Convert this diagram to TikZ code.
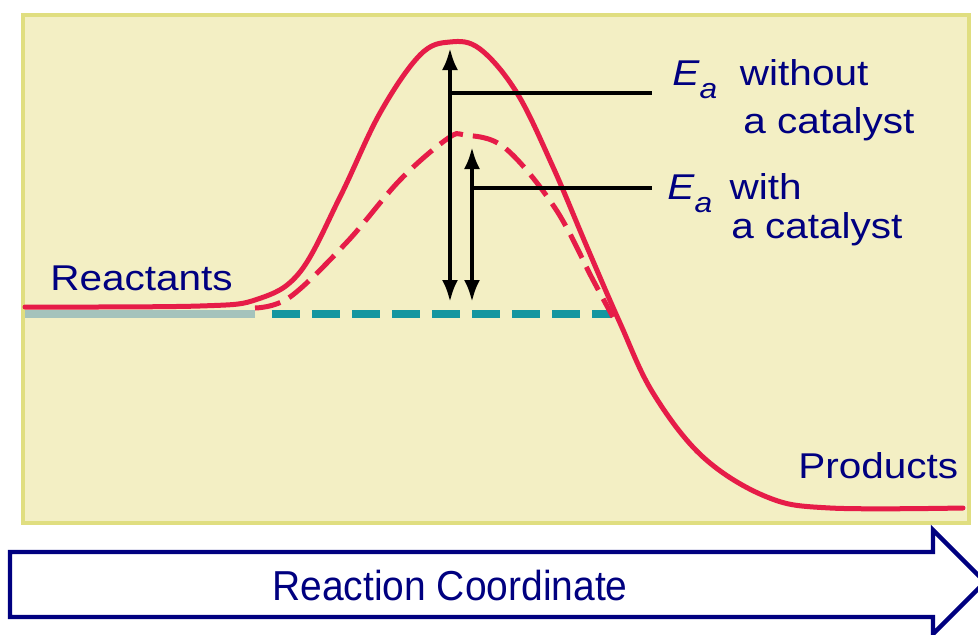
\documentclass[tikz,border=0pt]{standalone}
\usepackage{fontspec}
\setmainfont{Liberation Sans}
\usepackage{xcolor}
\usepackage{tikz}
\usetikzlibrary{arrows.meta}
\definecolor{labelblue}{RGB}{0,0,128}
\definecolor{curvered}{RGB}{230,28,72}
\definecolor{baseteal}{RGB}{20,150,160}
\definecolor{basepale}{RGB}{165,195,188}
\definecolor{paper}{RGB}{243,239,196}
\definecolor{paperedge}{RGB}{224,222,128}
\newcommand{\labelsize}{\fontsize{25.5}{30}\selectfont}
\newcommand{\Esub}{\textit{E}\raisebox{-0.39em}{\fontsize{20}{22}\selectfont\itshape a}}
\tikzset{
  energylabel/.style={
    text=labelblue, font=\labelsize, inner sep=0pt,
    anchor=base west, xscale=1.13
  },
  profile/.style={
    curvered, line width=1.25mm, line cap=round, line join=round
  },
  catprofile/.style={
    curvered, line width=1.25mm, dash pattern=on 6.5mm off 2.5mm
  },
  basedash/.style={
    baseteal, line width=2mm, dash pattern=on 7mm off 3mm
  },
  gaparrow/.style={
    {Latex[length=5.5mm,width=4mm]}-{Latex[length=5.5mm,width=4mm]},
    line width=1mm
  },
  leader/.style={line width=0.9mm},
}

\begin{document}
\begin{tikzpicture}[x=0.25mm, y=-0.25mm]
  \useasboundingbox (0,0) rectangle (978,635);

  % Plot area
  \draw[paperedge, line width=1mm, fill=paper] (23,15) rectangle (969,523);

  % Reactant energy level
  \draw[basepale, line width=2mm] (25,314) -- (255,314);
  \draw[basedash] (272,314) -- (612,314);

  % Uncatalysed path
  \draw[profile] plot[smooth, tension=0.6] coordinates {
    (25,307) (200,306) (258,299) (300,272) (340,197) (380,113)
    (420,55) (450,42) (480,49) (517,93) (553,167) (587,247)
    (620,323) (653,393) (703,457) (767,497) (830,508) (963,508)};

  % Catalysed path
  \draw[catprofile] plot[smooth, tension=0.6] coordinates {
    (255,308) (290,297) (347,242) (400,180) (447,139) (465,135)
    (505,148) (555,208) (593,280) (613,317)};

  % Activation energies
  \coordinate (peakA) at (450,48);
  \coordinate (flatA) at (450,302);
  \coordinate (peakB) at (472,147);
  \coordinate (flatB) at (472,302);
  \coordinate (leadA) at (450,93);
  \coordinate (leadAend) at (652,93);
  \coordinate (leadB) at (472,188);
  \coordinate (leadBend) at (652,188);
  \draw[gaparrow] (peakA) -- (flatA);
  \draw[gaparrow] (peakB) -- (flatB);
  \draw[leader] (leadA) -- (leadAend);
  \draw[leader] (leadB) -- (leadBend);

  % Labels
  \node[energylabel] (eaone) at (672,85) {\Esub\hspace{5mm}without};
  \node[energylabel] (eaonecat) at (743,133) {a catalyst};
  \node[energylabel] (eatwo) at (667,199) {\Esub\hspace{3.8mm}with};
  \node[energylabel] (eatwocat) at (731,238) {a catalyst};
  \node[energylabel] (reactlbl) at (50,290) {Reactants};
  \node[energylabel] (prodlbl) at (798,478) {Products};

  % Axis arrow
  \begin{scope}
    \clip (0,0) rectangle (978,635);
    \draw[labelblue, line width=1.1mm, fill=white, line join=miter]
      (10,552) -- (933,552) -- (933,530) -- (985,582) -- (933,634)
      -- (933,617) -- (10,617) -- cycle;
  \end{scope}
  \node[text=labelblue, font=\fontsize{29.8}{34}\selectfont, inner sep=0pt,
    anchor=base, xscale=0.93] (axislbl) at (450,600) {Reaction Coordinate};
\end{tikzpicture}
\end{document}
